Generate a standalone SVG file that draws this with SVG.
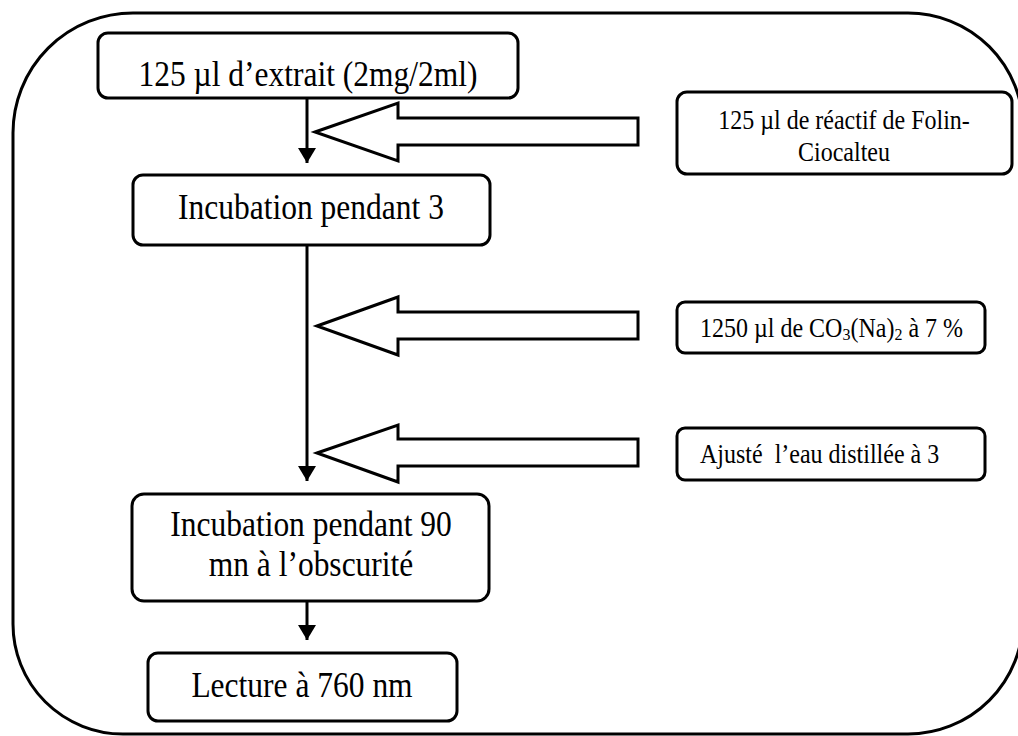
<svg xmlns="http://www.w3.org/2000/svg" width="1018" height="736" viewBox="0 0 1018 736">
<style>
.box{fill:#fff;stroke:#000;stroke-width:3}
.t{font-family:"Liberation Serif","Times New Roman",serif;fill:#000;text-anchor:middle}
.l{font-size:31.5px}
.s{font-size:24px}
.conn{stroke:#000;stroke-width:3;fill:none}
.big{fill:#fff;stroke:#000;stroke-width:3;stroke-linejoin:miter}
</style>
<defs>
<marker id="ah" markerWidth="6" markerHeight="6" refX="5" refY="3" orient="auto" markerUnits="strokeWidth">
<path d="M0,0 L5,3 L0,6 Z" fill="#000"/>
</marker>
</defs>
<rect width="1018" height="736" fill="#fff"/>
<path id="frame" d="M133,13 H908 A115,115 0 0 1 1023,128 V619 A115,115 0 0 1 908,734 H123 A110,110 0 0 1 13,624 V133 A120,120 0 0 1 133,13 Z" fill="none" stroke="#000" stroke-width="3"/>
<g id="connectors">
<line class="conn" x1="307" y1="99" x2="307" y2="163" marker-end="url(#ah)"/>
<line class="conn" x1="307" y1="246" x2="307" y2="481" marker-end="url(#ah)"/>
<line class="conn" x1="307" y1="602" x2="307" y2="640" marker-end="url(#ah)"/>
<path class="big" d="M315,132 L398,103 L398,118 L638,118 L638,145 L398,145 L398,161 Z"/>
<path class="big" d="M317,326 L398,297 L398,312 L638,312 L638,339 L398,339 L398,355 Z"/>
<path class="big" d="M317,453 L398,425 L398,439 L638,439 L638,466 L398,466 L398,482 Z"/>
</g>
<g id="n1"><rect class="box" x="98" y="33" width="420" height="65" rx="10"/><text class="t l" transform="translate(308,86) scale(1,1.15)">125 µl d’extrait (2mg/2ml)</text></g>
<g id="n2"><rect class="box" x="133" y="175" width="357" height="70" rx="10"/><text class="t l" transform="translate(311,219) scale(1,1.15)">Incubation pendant 3</text></g>
<g id="n3"><rect class="box" x="132" y="494" width="357" height="107" rx="12"/><text class="t l" transform="translate(311,536) scale(1,1.15)">Incubation pendant 90</text><text class="t l" transform="translate(311,576) scale(1,1.15)">mn à l’obscurité</text></g>
<g id="n4"><rect class="box" x="148" y="653" width="309" height="68" rx="10"/><text class="t l" transform="translate(302,697) scale(1,1.15)">Lecture à 760 nm</text></g>
<g id="r1"><rect class="box" x="677" y="92" width="335" height="82" rx="10"/><text class="t s" transform="translate(844,129) scale(1,1.1)">125 µl de réactif de Folin-</text><text class="t s" transform="translate(844,161) scale(1,1.1)">Ciocalteu</text></g>
<g id="r2"><rect class="box" x="677" y="302" width="308" height="51" rx="8"/><text class="t s" transform="translate(700,337) scale(1,1.1)" style="text-anchor:start">1250 µl de CO<tspan font-size="16" dy="3">3</tspan><tspan dy="-3">(Na)</tspan><tspan font-size="16" dy="3">2</tspan><tspan dy="-3"> à 7 %</tspan></text></g>
<g id="r3"><rect class="box" x="677" y="428" width="308" height="52" rx="8"/><text class="t s" transform="translate(700,463) scale(1,1.1)" style="text-anchor:start" xml:space="preserve">Ajusté  l’eau distillée à 3</text></g>
</svg>
